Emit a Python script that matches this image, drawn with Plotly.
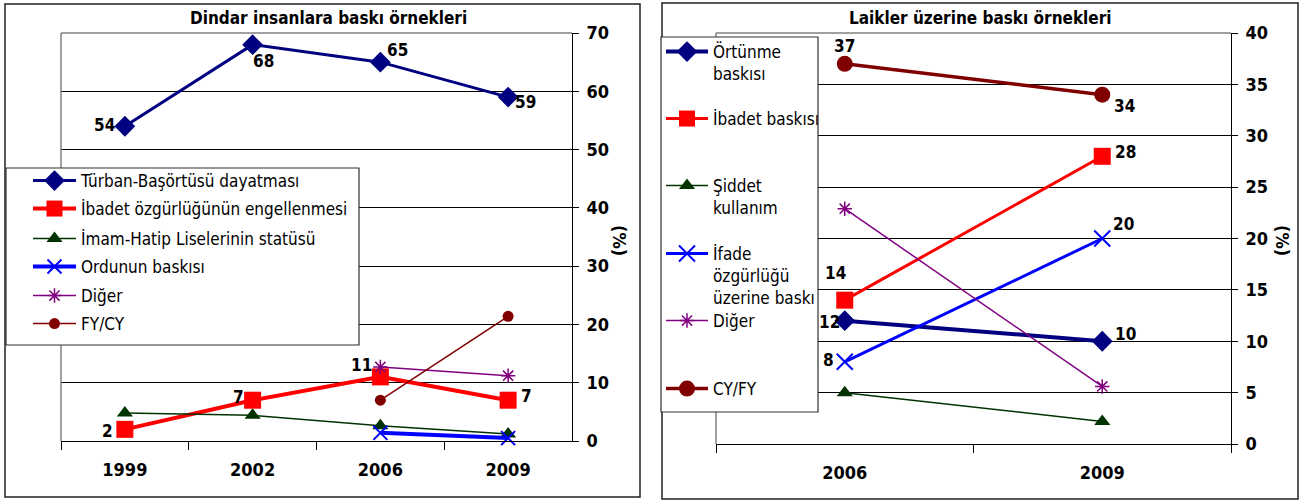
import plotly.graph_objects as go

W, H = 1316, 502
FONT = "Liberation Sans Narrow, DejaVu Sans Condensed, Arial Narrow, sans-serif"

# ---- left panel: pressure on religious people ----
left_years = ["1999", "2002", "2006", "2009"]
turban = [54, 68, 65, 59]
ibadet_left = [2, 7, 11, 7]
imam_hatip = [4.8, 4.4, 2.6, 1.2]
ordu = [None, None, 1.4, 0.5]
diger_left = [None, None, 12.7, 11.2]
fycy = [None, None, 7.0, 21.4]

# ---- right panel: pressure on secular people ----
right_years = ["2006", "2009"]
ortunme = [12, 10]
ibadet_right = [14, 28]
siddet = [5.0, 2.2]
ifade = [8, 20]
diger_right = [22.9, 5.6]
cyfy = [37, 34]

left_ticks = [0, 10, 20, 30, 40, 50, 60, 70]
right_ticks = [0, 5, 10, 15, 20, 25, 30, 35, 40]

NAVY, RED, GREEN, BLUE, PURPLE, MAROON = "#000080", "#FF0000", "#003300", "#0000FF", "#800080", "#800000"


def px(x):
    return x / W


def py(y):
    return 1 - y / H


fig = go.Figure()


def add(x, y, name, color, width, symbol, size, xa, ya, legend, mline=None):
    marker = dict(symbol=symbol, size=size, color=color)
    if mline:
        marker["line"] = dict(color=color, width=mline)
    fig.add_trace(go.Scatter(
        x=x, y=y, name=name, mode="lines+markers",
        line=dict(color=color, width=width),
        marker=marker,
        xaxis=xa, yaxis=ya, legend=legend, cliponaxis=False,
        hoverinfo="skip",
    ))


# left panel series
add(left_years, turban, "Türban-Başörtüsü dayatması", NAVY, 3, "diamond", 16, "x", "y", "legend")
add(left_years, ibadet_left, "İbadet özgürlüğünün engellenmesi", RED, 4, "square", 17, "x", "y", "legend2")
add(left_years, imam_hatip, "İmam-Hatip Liselerinin statüsü", GREEN, 1.5, "triangle-up", 14, "x", "y", "legend3")
add(left_years, ordu, "Ordunun baskısı", BLUE, 4, "x-thin-open", 14, "x", "y", "legend4", mline=2)
add(left_years, diger_left, "Diğer", PURPLE, 1.5, "asterisk-open", 12, "x", "y", "legend5", mline=1.5)
add(left_years, fycy, "FY/CY", MAROON, 1.5, "circle", 11, "x", "y", "legend6")

# right panel series
add(right_years, ortunme, "Örtünme<br>baskısı", NAVY, 4, "diamond", 16, "x2", "y2", "legend7")
add(right_years, ibadet_right, "İbadet baskısı", RED, 3, "square", 17, "x2", "y2", "legend8")
add(right_years, siddet, "Şiddet<br>kullanım", GREEN, 1.5, "triangle-up", 14, "x2", "y2", "legend9")
add(right_years, ifade, "İfade<br>özgürlüğü<br>üzerine baskı", BLUE, 3, "x-thin-open", 16, "x2", "y2",
    "legend10", mline=2)
add(right_years, diger_right, "Diğer", PURPLE, 1.5, "asterisk-open", 12, "x2", "y2", "legend11", mline=1.5)
add(right_years, cyfy, "CY/FY", MAROON, 3.5, "circle", 16, "x2", "y2", "legend12")

# value labels: (categories, values, pixel offsets per point, axes)
lab_font = dict(family=FONT, size=17, color="black", weight="bold")
value_labels = [
    (left_years, turban, [(-20, 1), (11, -16), (17, 12), (17, -5)], "x", "y"),
    (left_years, ibadet_left, [(-17, -2), (-14, 3), (-19, 12), (18, 4)], "x", "y"),
    (right_years, cyfy, [(0, 18), (22, -11)], "x2", "y2"),
    (right_years, ibadet_right, [(-9, 27), (23, 4)], "x2", "y2"),
    (right_years, ifade, [(-16, 2), (21, 14)], "x2", "y2"),
    (right_years, ortunme, [(-15, -1), (23, 7)], "x2", "y2"),
]
for cats, vals, offs, xa, ya in value_labels:
    # category axes take the category index as annotation position
    for idx, (v, (dx, dy)) in enumerate(zip(vals, offs)):
        fig.add_annotation(x=idx, y=v, xref=xa, yref=ya, text=f"{v:.0f}", showarrow=False,
                           xshift=dx, yshift=dy, xanchor="center", yanchor="middle",
                           font=lab_font)

tick_font = dict(family=FONT, size=18, color="black", weight="bold")
legend_font = dict(family=FONT, size=17, color="black")

xaxis_common = dict(type="category", showline=True, linecolor="black", linewidth=1,
                    ticks="outside", tickson="boundaries", ticklen=8, tickcolor="black",
                    tickfont=tick_font, showgrid=False, zeroline=False, fixedrange=True,
                    ticklabelstandoff=12, automargin=False)
yaxis_common = dict(side="right", showline=True, linecolor="black", linewidth=1,
                    ticks="outside", ticklen=6, tickcolor="black", tickfont=tick_font,
                    showgrid=True, gridcolor="black", gridwidth=1, zeroline=False,
                    fixedrange=True, ticklabelstandoff=4, automargin=False)

layout = dict(
    width=W, height=H, margin=dict(l=0, r=0, t=0, b=0, autoexpand=False),
    paper_bgcolor="white", plot_bgcolor="white",
    font=dict(family=FONT, color="black"),
    xaxis=dict(domain=[px(61), px(572)], anchor="y", categoryorder="array",
               categoryarray=left_years, range=[-0.5, len(left_years) - 0.5], **xaxis_common),
    yaxis=dict(domain=[py(441), py(33)], anchor="x", range=[0, 70], tickvals=left_ticks,
               **yaxis_common),
    xaxis2=dict(domain=[px(716), px(1231)], anchor="y2", categoryorder="array",
                categoryarray=right_years, range=[-0.5, len(right_years) - 0.5], **xaxis_common),
    yaxis2=dict(domain=[py(444), py(33)], anchor="x2", range=[0, 40], tickvals=right_ticks,
                **yaxis_common),
    showlegend=True,
)

# one legend per series, so each entry sits at its own row inside the boxes
left_rows = [182, 210, 240, 268, 297, 325]
for i, row in enumerate(left_rows):
    key = "legend" if i == 0 else f"legend{i + 1}"
    layout[key] = dict(x=px(28), y=py(row - 1), xanchor="left", yanchor="middle",
                       bgcolor="rgba(0,0,0,0)", borderwidth=0, font=legend_font,
                       itemwidth=43, itemclick=False, itemdoubleclick=False)

right_rows = [51, 118, 185, 253, 320, 388]
for i, row in enumerate(right_rows):
    layout[f"legend{i + 7}"] = dict(x=px(661), y=py(row - 17), xanchor="left", yanchor="top",
                                    bgcolor="rgba(0,0,0,0)", borderwidth=0, font=legend_font,
                                    itemwidth=42, valign="top", itemclick=False,
                                    itemdoubleclick=False)

fig.update_layout(**layout)

shapes = [
    # outer chart frames
    dict(type="rect", xref="paper", yref="paper", x0=px(5), x1=px(640), y0=py(497), y1=py(4),
         line=dict(color="#202020", width=1.5), layer="below"),
    dict(type="rect", xref="paper", yref="paper", x0=px(662), x1=px(1298), y0=py(499), y1=py(3),
         line=dict(color="#202020", width=1.5), layer="below"),
]
# grey plot-area edges (top and left)
for xd, yd in (("x domain", "y domain"), ("x2 domain", "y2 domain")):
    shapes.append(dict(type="line", xref=xd, yref=yd, x0=0, x1=1, y0=1, y1=1,
                       line=dict(color="#808080", width=1.5), layer="above"))
    shapes.append(dict(type="line", xref=xd, yref=yd, x0=0, x1=0, y0=0, y1=1,
                       line=dict(color="#808080", width=1.5), layer="above"))
# legend boxes
shapes.append(dict(type="rect", xref="paper", yref="paper", x0=px(6), x1=px(359), y0=py(345),
                   y1=py(168), fillcolor="white", line=dict(color="#303030", width=1.2),
                   layer="above"))
shapes.append(dict(type="rect", xref="paper", yref="paper", x0=px(661), x1=px(818), y0=py(412),
                   y1=py(37), fillcolor="white", line=dict(color="#303030", width=1.2),
                   layer="above"))
fig.update_layout(shapes=shapes)

title_font = dict(family=FONT, size=17, color="black", weight="bold")
fig.add_annotation(text="Dindar insanlara baskı örnekleri", x=px(328), y=py(18), xref="paper",
                   yref="paper", xanchor="center", yanchor="middle", showarrow=False,
                   font=title_font)
fig.add_annotation(text="Laikler üzerine baskı örnekleri", x=px(980), y=py(18), xref="paper",
                   yref="paper", xanchor="center", yanchor="middle", showarrow=False,
                   font=title_font)
pct_font = dict(family=FONT, size=18, color="black", weight="bold")
fig.add_annotation(text="(%)", x=px(620), y=py(240), xref="paper", yref="paper",
                   xanchor="center", yanchor="middle", showarrow=False, textangle=90,
                   font=pct_font)
fig.add_annotation(text="(%)", x=px(1283), y=py(240), xref="paper", yref="paper",
                   xanchor="center", yanchor="middle", showarrow=False, textangle=90,
                   font=pct_font)

fig.write_html("out.html")
